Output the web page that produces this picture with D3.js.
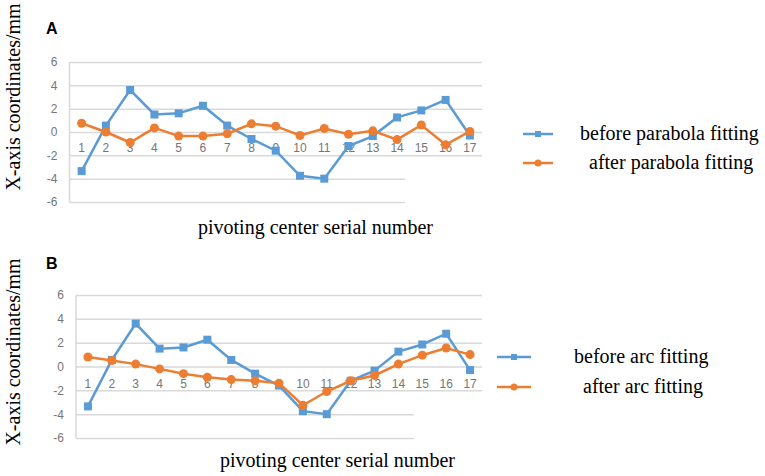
<!DOCTYPE html>
<html>
<head>
<meta charset="utf-8">
<script src="https://cdn.jsdelivr.net/npm/d3@7"></script>
<style>
  body { margin: 0; background: #fff; }
  svg { display: block; }
  .tick text { font-family: "Liberation Sans", Arial, sans-serif; font-size: 12px; fill: #767676; }
  .serif { font-family: "Liberation Serif", "Times New Roman", serif; font-size: 20px; fill: #000; }
</style>
</head>
<body>
<div class="chartArea"></div>
<script>
const categories = ["1","2","3","4","5","6","7","8","9","10","11","12","13","14","15","16","17"];
const yTicks = [-6, -4, -2, 0, 2, 4, 6];

// measured X coordinate deviations (mm)
const beforeFitting = [-3.35, 0.55, 3.6, 1.5, 1.6, 2.25, 0.55, -0.6, -1.6, -3.75, -4.0, -1.2, -0.35, 1.25, 1.85, 2.75, -0.3];
const afterParabola = [0.75, 0.0, -0.9, 0.35, -0.35, -0.35, -0.15, 0.7, 0.5, -0.3, 0.3, -0.2, 0.1, -0.65, 0.6, -1.1, 0.05];
const afterArc = [0.8, 0.5, 0.2, -0.2, -0.6, -0.9, -1.1, -1.2, -1.4, -3.25, -2.1, -1.2, -0.75, 0.2, 0.95, 1.55, 1.0];

const legendA = ["before parabola fitting", "after parabola fitting"];
const legendB = ["before arc fitting", "after arc fitting"];

const blue = "#5b9bd5";
const orange = "#ed7d31";
const grid = "#d9d9d9";

const width = 765;
const height = 476;

const svg = d3.select(".chartArea")
    .append("svg")
    .attr("width", width)
    .attr("height", height);

function drawPanel(p) {
    const g = svg.append("g");

    const xScale = d3.scaleBand()
        .domain(categories)
        .range([p.left, p.right]);
    const yScale = d3.scaleLinear()
        .domain([-6, 6])
        .range([p.bottom, p.top]);
    const cx = d => xScale(d) + xScale.bandwidth() / 2;

    // gridlines + y labels
    const yAxis = d3.axisLeft(yScale)
        .tickValues(yTicks)
        .tickFormat(d => String(d))
        .tickSize(-(p.right - p.left))
        .tickPadding(12);
    const ya = g.append("g")
        .attr("transform", `translate(${p.left},0)`)
        .call(yAxis);
    ya.select(".domain").remove();
    ya.selectAll(".tick line").attr("stroke", grid).attr("stroke-width", 1.5);

    // vertical axis line
    g.append("line")
        .attr("x1", p.left).attr("x2", p.left)
        .attr("y1", yScale(6)).attr("y2", yScale(-6))
        .attr("stroke", grid).attr("stroke-width", 1.5);

    // white box of the axis title covering the lower grid
    g.append("rect")
        .attr("x", p.coverX).attr("y", yScale(-3))
        .attr("width", p.right - p.coverX + 2).attr("height", yScale(-7) - yScale(-3))
        .attr("fill", "#fff");

    // category labels sitting under the zero line
    const xAxis = d3.axisBottom(xScale).tickSize(0).tickPadding(p.labelPad);
    const xa = g.append("g")
        .attr("transform", `translate(0,${yScale(0)})`)
        .call(xAxis);
    xa.select(".domain").remove();

    const line = d3.line()
        .x((d, i) => cx(categories[i]))
        .y(d => yScale(d));

    // before
    g.append("path")
        .datum(p.before)
        .attr("d", line)
        .attr("fill", "none")
        .attr("stroke", blue)
        .attr("stroke-width", 2.5);
    g.selectAll(".sq")
        .data(p.before)
        .enter()
        .append("rect")
        .attr("x", (d, i) => cx(categories[i]) - 4)
        .attr("y", d => yScale(d) - 4)
        .attr("width", 8)
        .attr("height", 8)
        .attr("fill", blue);

    // after
    g.append("path")
        .datum(p.after)
        .attr("d", line)
        .attr("fill", "none")
        .attr("stroke", orange)
        .attr("stroke-width", 2.5);
    g.selectAll(".dot")
        .data(p.after)
        .enter()
        .append("circle")
        .attr("cx", (d, i) => cx(categories[i]))
        .attr("cy", d => yScale(d))
        .attr("r", 4.5)
        .attr("fill", orange);

    // titles
    g.append("text")
        .attr("class", "serif")
        .attr("text-anchor", "middle")
        .attr("transform", `translate(20,${p.yTitleY}) rotate(-90)`)
        .text("X-axis coordinates/mm");
    g.append("text")
        .attr("class", "serif")
        .attr("x", p.xTitleX)
        .attr("y", p.xTitleY)
        .text("pivoting center serial number");
    g.append("text")
        .attr("x", 46)
        .attr("y", p.letterY)
        .attr("font-family", "Liberation Sans, Arial, sans-serif")
        .attr("font-weight", "bold")
        .attr("font-size", "16px")
        .text(p.letter);

    // legend
    const colors = [blue, orange];
    p.legend.forEach((txt, i) => {
        const ly = p.legY[i];
        g.append("line")
            .attr("x1", p.legX[0]).attr("x2", p.legX[1])
            .attr("y1", ly).attr("y2", ly)
            .attr("stroke", colors[i]).attr("stroke-width", 2.5);
        const mx = (p.legX[0] + p.legX[1]) / 2;
        if (i === 0) {
            g.append("rect").attr("x", mx - 3).attr("y", ly - 3)
                .attr("width", 6).attr("height", 6).attr("fill", blue);
        } else {
            g.append("circle").attr("cx", mx).attr("cy", ly).attr("r", 3.5).attr("fill", orange);
        }
        g.append("text")
            .attr("class", "serif")
            .attr("x", p.legTextX[i])
            .attr("y", ly + 6)
            .text(txt);
    });
}

drawPanel({
    letter: "A", letterY: 34,
    left: 69.5, right: 482, top: 62, bottom: 202,
    coverX: 405, labelPad: 11,
    before: beforeFitting, after: afterParabola,
    yTitleY: 97, xTitleX: 198, xTitleY: 234,
    legend: legendA, legX: [523, 553], legY: [134, 163], legTextX: [580, 589]
});

drawPanel({
    letter: "B", letterY: 269,
    left: 76, right: 482, top: 295, bottom: 438,
    coverX: 414, labelPad: 13,
    before: beforeFitting, after: afterArc,
    yTitleY: 352, xTitleX: 220, xTitleY: 467,
    legend: legendB, legX: [497, 531], legY: [357, 387], legTextX: [574, 583]
});
</script>
</body>
</html>
